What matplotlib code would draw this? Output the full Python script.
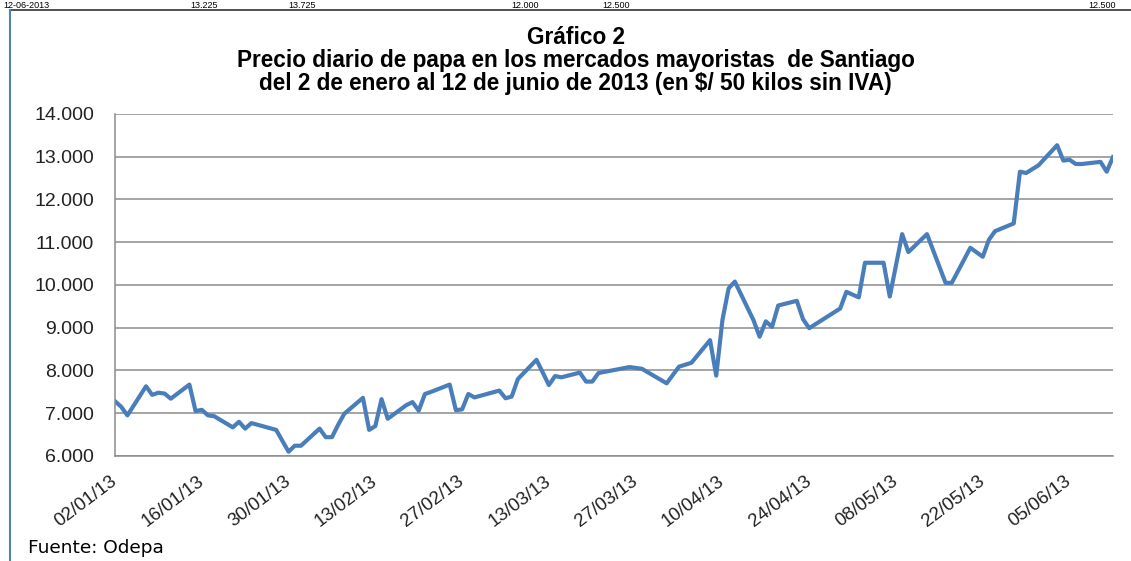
import pandas as pd
import matplotlib
matplotlib.use("Agg")
import matplotlib.pyplot as plt
import matplotlib.dates as mdates
from matplotlib.ticker import FuncFormatter
from matplotlib.lines import Line2D

plt.rcParams['font.family'] = ['Liberation Sans', 'DejaVu Sans']

# Precio diario de papa ($/50 kg sin IVA)
fechas = [
    "2013-01-02", "2013-01-03", "2013-01-04", "2013-01-07", "2013-01-08", "2013-01-09",
    "2013-01-10", "2013-01-11", "2013-01-14", "2013-01-15", "2013-01-16", "2013-01-17",
    "2013-01-18", "2013-01-21", "2013-01-22", "2013-01-23", "2013-01-24", "2013-01-28",
    "2013-01-30", "2013-01-31", "2013-02-01", "2013-02-04", "2013-02-05", "2013-02-06",
    "2013-02-07", "2013-02-08", "2013-02-11", "2013-02-12", "2013-02-13", "2013-02-14",
    "2013-02-15", "2013-02-18", "2013-02-19", "2013-02-20", "2013-02-21", "2013-02-22",
    "2013-02-25", "2013-02-26", "2013-02-27", "2013-02-28", "2013-03-01", "2013-03-05",
    "2013-03-06", "2013-03-07", "2013-03-08", "2013-03-11", "2013-03-13", "2013-03-14",
    "2013-03-15", "2013-03-18", "2013-03-19", "2013-03-20", "2013-03-21", "2013-03-26",
    "2013-03-28", "2013-04-01", "2013-04-03", "2013-04-05", "2013-04-08", "2013-04-09",
    "2013-04-10", "2013-04-11", "2013-04-12", "2013-04-15", "2013-04-16", "2013-04-17",
    "2013-04-18", "2013-04-19", "2013-04-22", "2013-04-23", "2013-04-24", "2013-04-29",
    "2013-04-30", "2013-05-02", "2013-05-03", "2013-05-06", "2013-05-07", "2013-05-09",
    "2013-05-10", "2013-05-13", "2013-05-16", "2013-05-17", "2013-05-20", "2013-05-22",
    "2013-05-23", "2013-05-24", "2013-05-27", "2013-05-28", "2013-05-29", "2013-05-31",
    "2013-06-03", "2013-06-04", "2013-06-05", "2013-06-06", "2013-06-07", "2013-06-10",
    "2013-06-11", "2013-06-12",
]
precios = [
    7280, 7150, 6950, 7630, 7430, 7480,
    7460, 7340, 7670, 7050, 7080, 6950,
    6930, 6670, 6800, 6640, 6770, 6610,
    6100, 6240, 6240, 6640, 6440, 6440,
    6730, 6990, 7360, 6610, 6700, 7330,
    6870, 7190, 7260, 7060, 7450, 7500,
    7670, 7070, 7090, 7450, 7370, 7530,
    7350, 7390, 7800, 8250, 7660, 7870,
    7840, 7950, 7740, 7740, 7940, 8080,
    8040, 7700, 8090, 8180, 8710, 7880,
    9180, 9920, 10080, 9180, 8790, 9150,
    9020, 9520, 9630, 9200, 8990, 9450,
    9840, 9710, 10520, 10520, 9730, 11190,
    10770, 11190, 10050, 10050, 10870, 10660,
    11060, 11260, 11440, 12650, 12620, 12800,
    13270, 12910, 12930, 12830, 12830, 12880,
    12650, 12990,
]

# fila de la tabla que queda encima del recuadro
fila_tabla = ["12-06-2013", "13.225", "13.725", "12.000", "12.500", "12.500"]
fila_x = [0.003, 0.168, 0.255, 0.452, 0.533, 0.962]

titulo = ["Gráfico 2",
          "Precio diario de papa en los mercados mayoristas  de Santiago",
          "del 2 de enero al 12 de junio de 2013 (en $/ 50 kilos sin IVA)"]
titulo_y = [38, 61, 84]

x = pd.to_datetime(fechas)
ticks = pd.date_range("2013-01-02", "2013-06-12", freq="14D")

fig = plt.figure(figsize=(11.31, 5.61), dpi=100)
ax = fig.add_axes([0.1017, 0.1872, 0.8823, 0.6096])

ax.plot(x, precios, color="#4A7EBB", lw=3.0, solid_joinstyle="round")

ax.set_xlim(pd.Timestamp("2013-01-02"), pd.Timestamp("2013-06-12"))
ax.set_ylim(6000, 14000)
ax.set_yticks(range(6000, 14001, 1000))
ax.yaxis.set_major_formatter(FuncFormatter(lambda v, p: f"{int(v):,}".replace(",", ".")))
ax.set_xticks(ticks)
ax.xaxis.set_major_formatter(mdates.DateFormatter("%d/%m/%y"))

ax.grid(axis="y", color="#8c8c8c", lw=1.1)
ax.set_axisbelow(True)
for s in ["top", "right"]:
    ax.spines[s].set_visible(False)
for s in ["left", "bottom"]:
    ax.spines[s].set_color("#8c8c8c")
    ax.spines[s].set_linewidth(1.1)

ax.tick_params(axis="y", length=0, pad=15, labelsize=14, colors="#222222")
ax.tick_params(axis="x", length=0, pad=17, labelsize=13.5, colors="#222222")
for lab in ax.get_xticklabels():
    lab.set_rotation(37)
    lab.set_ha("right")
    lab.set_va("center")
    lab.set_rotation_mode("anchor")

for t, yy in zip(titulo, titulo_y):
    fig.text(0.509, 1 - yy / 561, t, ha="center", va="center", fontsize=16.3,
             fontweight="bold")
fig.text(28 / 1131, 1 - 548 / 561, "Fuente: Odepa", ha="left", va="center",
         fontsize=13.3, family="DejaVu Sans")

for t, xx in zip(fila_tabla, fila_x):
    fig.text(xx, 1 - 1 / 561, t, ha="left", va="top", fontsize=6.5)

# marco del recuadro
fig.add_artist(Line2D([10 / 1131, 1], [1 - 10 / 561] * 2, color="#333333", lw=1.2,
                      transform=fig.transFigure))
fig.add_artist(Line2D([10 / 1131] * 2, [0, 1 - 10 / 561], color="#4F81BD", lw=1.5,
                      transform=fig.transFigure))

fig.savefig("out.png", dpi=100)
